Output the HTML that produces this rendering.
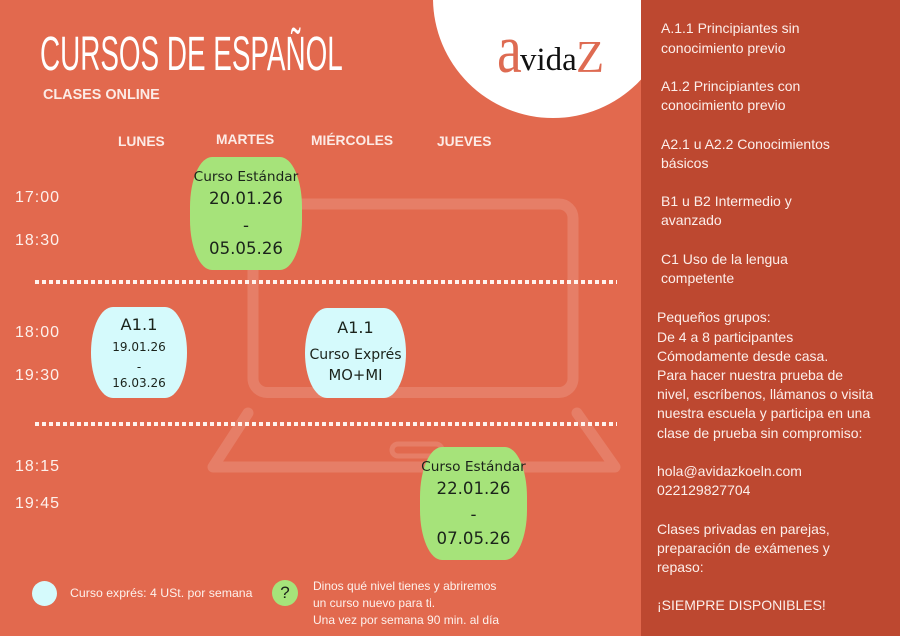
<!DOCTYPE html>
<html><head><meta charset="utf-8"><style>
*{margin:0;padding:0;box-sizing:border-box}
html,body{width:900px;height:636px;overflow:hidden;background:#E2694E}
body{position:relative;font-family:"Liberation Sans",sans-serif;color:#fff}
.a{position:absolute;white-space:nowrap}
.box{position:absolute;color:#1b231b;font-family:"DejaVu Sans","Liberation Sans",sans-serif}
.box div{position:absolute;left:-10px;right:-10px;text-align:center;white-space:nowrap}
.green{background:#A6E37A;border-radius:22px/50px}
.blue{background:#D5FAFC;border-radius:22px/45px}
.dots{position:absolute;left:35px;width:582px;height:4px;background:repeating-linear-gradient(to right,#fff3ee 0 4px,transparent 4px 7px)}
.rp{position:absolute;left:641px;top:0;width:259px;height:636px;background:#BD4830}
.rt{position:absolute;font-size:14px;line-height:19.2px;color:#FCEEEA;white-space:nowrap}
.day{position:absolute;white-space:nowrap;font-size:13.8px;line-height:18px;font-weight:bold;color:#FCEBE6}
.tm{position:absolute;white-space:nowrap;left:15px;font-size:16px;line-height:20px;letter-spacing:1px;color:#FDF1EC}
</style></head><body>

<div class="a" style="left:433px;top:-122px;width:240px;height:240px;border-radius:50%;background:#fff"></div>

<svg class="a" style="left:0;top:0" width="900" height="636" viewBox="0 0 900 636">
<g fill="none" stroke="rgba(255,255,255,0.14)" stroke-width="11" stroke-linecap="round" stroke-linejoin="round">
<rect x="253" y="204" width="320" height="188.5" rx="14"/>
<polyline points="248,413 213,467 615,467 577,413"/>
<rect x="392" y="444" width="50" height="12" rx="6" stroke-width="5"/>
</g>
</svg>

<!-- logo -->
<div class="a" style="left:497px;top:-1.3px;font-family:'Liberation Serif',serif;font-size:69px;line-height:100px;color:#DE6B52;transform:scaleX(0.81);transform-origin:left top">a</div>
<div class="a" style="left:520px;top:44px;font-family:'Liberation Serif',serif;font-size:33px;line-height:33px;color:#111">vida</div>
<div class="a" style="left:576px;top:33.5px;font-family:'Liberation Serif',serif;font-size:46px;line-height:46px;color:#DE6B52">Z</div>

<!-- title -->
<div class="a" style="left:40px;top:31px;font-size:48px;line-height:48px;transform:scaleX(0.58);transform-origin:left top;color:#fff">CURSOS DE ESPAÑOL</div>
<div class="a" style="left:43px;top:86px;font-size:14.4px;line-height:18px;font-weight:bold;color:#FCEBE6">CLASES ONLINE</div>

<!-- day headers -->
<div class="day" style="left:118px;top:133px">LUNES</div>
<div class="day" style="left:216px;top:131px">MARTES</div>
<div class="day" style="left:311px;top:132px">MIÉRCOLES</div>
<div class="day" style="left:437px;top:133px">JUEVES</div>

<!-- times -->
<div class="tm" style="top:188px">17:00</div>
<div class="tm" style="top:231px">18:30</div>
<div class="tm" style="top:323px">18:00</div>
<div class="tm" style="top:366px">19:30</div>
<div class="tm" style="top:457px">18:15</div>
<div class="tm" style="top:494px">19:45</div>

<!-- dotted lines -->
<div class="dots" style="top:280px"></div>
<div class="dots" style="top:422px"></div>

<!-- boxes -->
<div class="box green" style="left:190px;top:157px;width:112px;height:113px">
 <div style="top:10px;font-size:13.7px;line-height:20px">Curso Estándar</div>
 <div style="top:31px;font-size:16.6px;line-height:22px">20.01.26</div>
 <div style="top:58px;font-size:16.6px;line-height:22px">-</div>
 <div style="top:81px;font-size:16.6px;line-height:22px">05.05.26</div>
</div>

<div class="box green" style="left:420px;top:447px;width:107px;height:113px">
 <div style="top:10px;font-size:13.7px;line-height:20px">Curso Estándar</div>
 <div style="top:31px;font-size:16.6px;line-height:22px">22.01.26</div>
 <div style="top:57px;font-size:16.6px;line-height:22px">-</div>
 <div style="top:81px;font-size:16.6px;line-height:22px">07.05.26</div>
</div>

<div class="box blue" style="left:91px;top:307px;width:96px;height:91px">
 <div style="top:8px;font-size:16.3px;line-height:20px">A1.1</div>
 <div style="top:32px;font-size:12px;line-height:16px">19.01.26</div>
 <div style="top:52px;font-size:12px;line-height:16px">-</div>
 <div style="top:68px;font-size:12px;line-height:16px">16.03.26</div>
</div>

<div class="box blue" style="left:305px;top:308px;width:101px;height:90px">
 <div style="top:10px;font-size:16px;line-height:20px">A1.1</div>
 <div style="top:37px;font-size:14px;line-height:20px">Curso Exprés</div>
 <div style="top:58px;font-size:14.8px;line-height:20px">MO+MI</div>
</div>

<!-- legend -->
<div class="a" style="left:32px;top:581px;width:25px;height:25px;border-radius:50%;background:#D5FAFC"></div>
<div class="a" style="left:70px;top:585px;font-size:12.3px;line-height:16px;color:#FDF1EC">Curso exprés: 4 USt. por semana</div>
<div class="a" style="left:272px;top:580px;width:26px;height:26px;border-radius:50%;background:#A6E37A;color:#1b231b;font-size:17px;line-height:26px;text-align:center">?</div>
<div class="a" style="left:313px;top:578px;font-size:12px;line-height:17px;color:#FDF1EC">Dinos qué nivel tienes y abriremos<br>un curso nuevo para ti.<br>Una vez por semana 90 min. al día</div>

<!-- right panel -->
<div class="rp"></div>
<div class="rt" style="left:661px;top:19.4px">A.1.1 Principiantes sin<br>conocimiento previo<br><br>A1.2 Principiantes con<br>conocimiento previo<br><br>A2.1 u A2.2 Conocimientos<br>básicos<br><br>B1 u B2 Intermedio y<br>avanzado<br><br>C1 Uso de la lengua<br>competente</div>
<div class="rt" style="left:657px;top:308.4px">Pequeños grupos:<br>De 4 a 8 participantes<br>Cómodamente desde casa.<br>Para hacer nuestra prueba de<br>nivel, escríbenos, llámanos o visita<br>nuestra escuela y participa en una<br>clase de prueba sin compromiso:<br><br>hola@avidazkoeln.com<br>022129827704<br><br>Clases privadas en parejas,<br>preparación de exámenes y<br>repaso:<br><br>¡SIEMPRE DISPONIBLES!</div>

</body></html>
